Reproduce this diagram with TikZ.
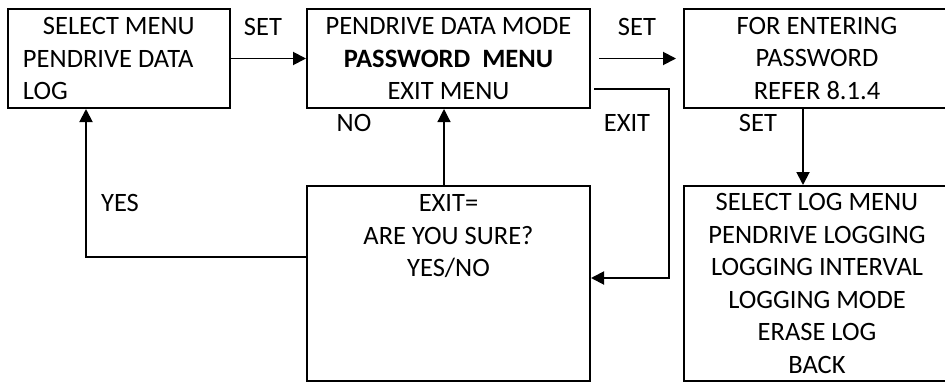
\documentclass[tikz,border=0pt]{standalone}
\usepackage{fontspec}
\setmainfont{Carlito}
\usetikzlibrary{arrows.meta,calc}
\begin{document}
\begin{tikzpicture}[x=1pt,y=-1pt,
  box/.style={draw, line width=2pt, inner sep=0pt, align=center,
              font=\fontsize{26.5}{32.5}\selectfont},
  lbl/.style={inner sep=0pt, font=\fontsize{26.5}{32.5}\selectfont},
  conn/.style={line width=1.9pt, -{Triangle[length=13pt,width=13pt]}}]
\fill[white] (0,0) rectangle (945,383);
\useasboundingbox (0,0) rectangle (945,383);

% menu screens
\node[box, minimum width=222pt, minimum height=99pt, text width=192pt,
      inner xsep=15pt, align=flush left] (menu) at (119,58.5)
  {\hspace*{20pt}SELECT MENU\\PENDRIVE DATA\\LOG};
\node[box, minimum width=283pt, minimum height=99pt] (mode) at (448.5,58.5)
  {PENDRIVE DATA MODE\\\textbf{PASSWORD\hspace{12pt}MENU}\\EXIT MENU};
\node[box, minimum width=266pt, minimum height=99pt] (pwd) at (817,58.5)
  {FOR ENTERING\\PASSWORD\\REFER 8.1.4};
\node[box, minimum width=266pt, minimum height=195pt] (log) at (817,283.5)
  {SELECT LOG MENU\\PENDRIVE LOGGING\\LOGGING INTERVAL\\LOGGING MODE\\ERASE LOG\\BACK};
\node[box, minimum width=283pt, minimum height=195pt] (ask) at (448.5,283.5) {};
\node[lbl, anchor=north, align=center] (askText) at (448.5,194.5)
  {EXIT=\\ARE YOU SURE?\\YES/NO};

% key labels
\node[lbl] (setA) at (263,27) {SET};
\node[lbl] (setB) at (637,27) {SET};
\node[lbl] (setC) at (758,123) {SET};
\node[lbl] (no) at (354,123) {NO};
\node[lbl] (exit) at (627,123) {EXIT};
\node[lbl] (yes) at (120,203) {YES};

% transitions
\draw[conn] (menu.east) -- (mode.west);
\draw[conn] ([xshift=8pt]mode.east) -- ([xshift=-7pt]pwd.west);
\draw[conn] ([xshift=-14pt]pwd.south) -- ([xshift=-14pt]log.north);
\draw[conn, line width=1.2pt] ([xshift=-4.5pt]ask.north) -- ([xshift=-4.5pt]mode.south);
\draw[conn] ($(mode.east)+(3,30.5)$) -- ++(75,0) |- ($(ask.east)+(0,-5.5)$);
\draw[conn] ($(ask.west)+(0,-26.5)$) -| ($(menu.south)+(-33,0)$);
\end{tikzpicture}
\end{document}
